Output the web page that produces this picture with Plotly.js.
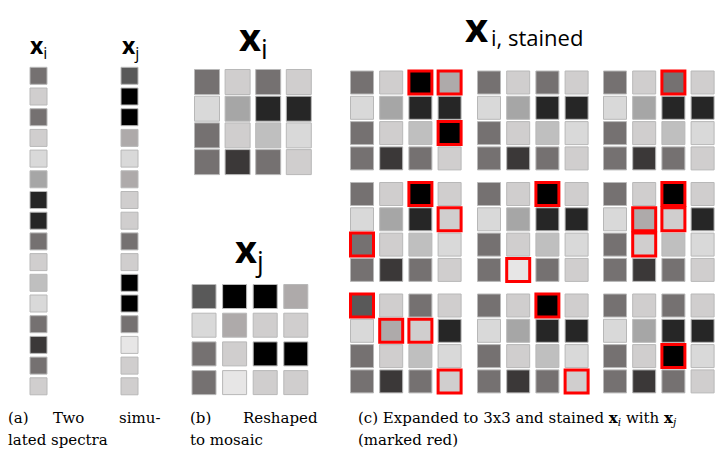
<!DOCTYPE html>
<html><head><meta charset="utf-8">
<script src="https://cdn.plot.ly/plotly-3.0.1.min.js"></script>
<style>html,body{margin:0;padding:0;background:#fff}</style>
</head><body><div id="chart" style="width:720px;height:450px"></div>
<script>
// gray intensity of each spectral bin (0 = black, 255 = white)
const spectrumI = [117,208,117,208,217,166,38,38,117,208,191,217,117,59,117,208];
const spectrumJ = [89,0,0,174,217,174,208,208,117,208,0,0,117,231,208,208];
// stained cells in the 3x3 expansion: block index (row-major), cell index, value taken over
const stainBlock = [0,0,0, 2, 3,3,3, 4,4, 5,5,5,5, 6,6,6,6, 7,7, 8];
const stainCell  = [2,3,11, 2, 2,7,8, 2,13, 2,5,6,9, 0,5,6,15, 2,15, 10];
const stainValue = [0,174,0, 117, 0,208,117, 0,231, 0,174,208,208, 89,174,208,208, 0,208, 0];
const titles = ['x', 'i', 'j', 'i, stained'];
const captions = ['(a)', 'Two', 'simu-', 'lated spectra', '(b)', 'Reshaped', 'to mosaic',
  '(c) Expanded to 3x3 and stained <b>x</b><sub><i>i</i></sub> with <b>x</b><sub><i>j</i></sub>', '(marked red)'];

const gray = [[0,'#000000'],[38/255,'#262626'],[59/255,'#3b3838'],[89/255,'#595959'],[117/255,'#757171'],
  [166/255,'#a6a6a6'],[174/255,'#aeaaaa'],[191/255,'#bfbfbf'],[208/255,'#d0cece'],[217/255,'#d9d9d9'],
  [231/255,'#e7e6e6'],[1,'#ffffff']];

function cellTrace(xs, ys, vals, size, lineColor, lineWidth) {
  return {type:'scatter', mode:'markers', x:xs, y:ys, hoverinfo:'skip', showlegend:false,
    marker:{symbol:'square', size:size, color:vals, colorscale:gray, cmin:0, cmax:255, showscale:false,
      line:{color:lineColor, width:lineWidth}}};
}
const traces = [];
// (a) spectra columns
const aY = spectrumI.map((v,k)=>75.8 + k*20.7);
traces.push(cellTrace(spectrumI.map(()=>38.5), aY, spectrumI, 17, '#b8b8b8', 1));
traces.push(cellTrace(spectrumJ.map(()=>129.5), aY, spectrumJ, 17, '#b8b8b8', 1));
// (b) mosaics
traces.push(cellTrace(spectrumI.map((v,k)=>207 + (k%4)*30.6), spectrumI.map((v,k)=>82 + Math.floor(k/4)*26.7), spectrumI, 25, '#b8b8b8', 1));
traces.push(cellTrace(spectrumJ.map((v,k)=>204 + (k%4)*30.6), spectrumJ.map((v,k)=>296.5 + Math.floor(k/4)*28.7), spectrumJ, 24, '#b8b8b8', 1));
// (c) 3x3 expansion
const bx = [362, 489, 615], by = [82.5, 194, 305.5];
const cX = (b,c) => bx[b%3] + (c%4)*29.2;
const cY = (b,c) => by[Math.floor(b/3)] + Math.floor(c/4)*25.3;
const ex=[], ey=[], ev=[];
for (let b=0;b<9;b++) for (let c=0;c<16;c++) { ex.push(cX(b,c)); ey.push(cY(b,c)); ev.push(spectrumI[c]); }
traces.push(cellTrace(ex, ey, ev, 23, '#b8b8b8', 1));
traces.push(cellTrace(stainBlock.map((b,k)=>cX(b,stainCell[k])), stainBlock.map((b,k)=>cY(b,stainCell[k])), stainValue, 23, '#ff0000', 3));

const tf = {family:'Open Sans, Liberation Sans, sans-serif', color:'#000'};
const cf = {family:'DejaVu Serif, serif', size:15, color:'#000'};
function ann(text, x, y, font, xa, ya) {
  return {text:text, x:x, y:y, xref:'x', yref:'y', showarrow:false, xanchor:xa||'center', yanchor:ya||'middle',
    font:font, borderpad:0, borderwidth:0};
}
const annotations = [
  ann('<b>'+titles[0]+'</b><sub>'+titles[1]+'</sub>', 38, 46, Object.assign({size:23}, tf)),
  ann('<b>'+titles[0]+'</b><sub>'+titles[2]+'</sub>', 130, 46, Object.assign({size:23}, tf)),
  ann('<b>'+titles[0]+'</b><sub>'+titles[1]+'</sub>', 253, 38, Object.assign({size:38}, tf)),
  ann('<b>'+titles[0]+'</b><sub>'+titles[2]+'</sub>', 249, 250, Object.assign({size:38}, tf)),
  ann('<b>'+titles[0]+'</b>', 476, 26, Object.assign({size:40}, tf)),
  ann(titles[3], 491, 37, Object.assign({size:22}, tf), 'left'),
  ann(captions[0], 8, 418, cf, 'left'),
  ann(captions[1], 53, 418, cf, 'left'),
  ann(captions[2], 160, 418, cf, 'right'),
  ann(captions[3], 8, 440, cf, 'left'),
  ann(captions[4], 190, 418, cf, 'left'),
  ann(captions[5], 318, 418, cf, 'right'),
  ann(captions[6], 190, 440, cf, 'left'),
  ann(captions[7], 358, 418, cf, 'left'),
  ann(captions[8], 358, 440, cf, 'left')
];
const layout = {width:720, height:450, margin:{l:0,r:0,t:0,b:0}, paper_bgcolor:'#fff', plot_bgcolor:'#fff',
  xaxis:{range:[0,720], visible:false, fixedrange:true},
  yaxis:{range:[450,0], visible:false, fixedrange:true},
  annotations:annotations};
Plotly.newPlot('chart', traces, layout, {staticPlot:true, displayModeBar:false});
</script></body></html>
